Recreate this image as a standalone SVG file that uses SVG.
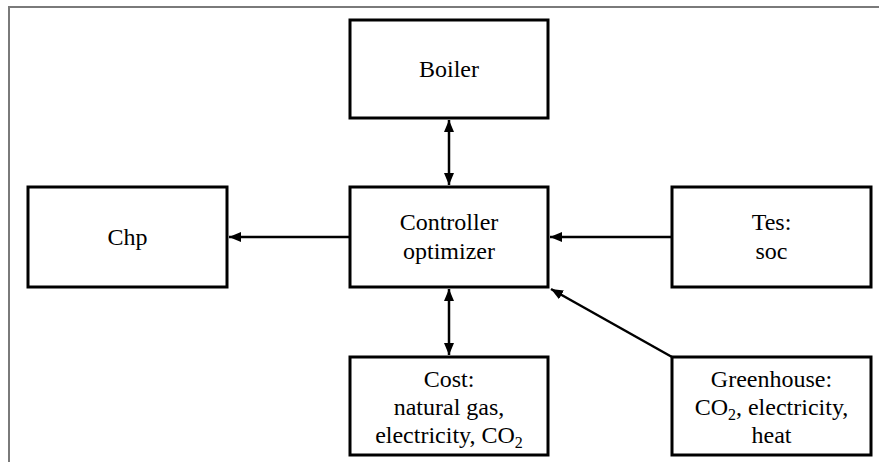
<svg xmlns="http://www.w3.org/2000/svg" width="879" height="462" viewBox="0 0 879 462">
<style>
.box{fill:#fff;stroke:#000;stroke-width:3}
.t{font-family:'Liberation Serif','Times New Roman',serif;font-size:24px;fill:#000;text-anchor:middle}
.s{font-size:16px}
.c{stroke:#000;stroke-width:2.5;fill:none}
.fr{stroke:#7a7a7a;stroke-width:2;fill:none}
</style>
<defs>
<marker id="ah" viewBox="0 0 12 10" refX="12" refY="5" markerWidth="12" markerHeight="10" markerUnits="userSpaceOnUse" orient="auto-start-reverse">
<path d="M0,0 L12,5 L0,10 Z" fill="#000"/>
</marker>
</defs>
<rect width="879" height="462" fill="#fff"/>
<path class="fr" d="M9,462 V7 H879"/>
<g id="boiler"><rect class="box" x="350" y="20" width="198" height="98"/><text class="t" x="449" y="77">Boiler</text></g>
<g id="controller"><rect class="box" x="350" y="187" width="198" height="100"/><text class="t" x="449" y="230">Controller</text><text class="t" x="449" y="259">optimizer</text></g>
<g id="chp"><rect class="box" x="28" y="187" width="199" height="100"/><text class="t" x="127.5" y="245">Chp</text></g>
<g id="tes"><rect class="box" x="672" y="187" width="199" height="100"/><text class="t" x="771.5" y="230">Tes:</text><text class="t" x="771.5" y="259">soc</text></g>
<g id="cost"><rect class="box" x="350" y="357" width="198" height="98"/><text class="t" x="449" y="387">Cost:</text><text class="t" x="449" y="415">natural gas,</text><text class="t" x="449" y="443">electricity, CO<tspan class="s" dy="5">2</tspan></text></g>
<g id="greenhouse"><rect class="box" x="672" y="357" width="199" height="98"/><text class="t" x="771.5" y="387">Greenhouse:</text><text class="t" x="771.5" y="415">CO<tspan class="s" dy="5">2</tspan><tspan dy="-5">, electricity,</tspan></text><text class="t" x="771.5" y="443">heat</text></g>
<g id="connectors">
<line class="c" x1="449" y1="120" x2="449" y2="185" marker-start="url(#ah)" marker-end="url(#ah)"/>
<line class="c" x1="350" y1="237" x2="229" y2="237" marker-end="url(#ah)"/>
<line class="c" x1="672" y1="237" x2="550" y2="237" marker-end="url(#ah)"/>
<line class="c" x1="449" y1="289" x2="449" y2="355" marker-start="url(#ah)" marker-end="url(#ah)"/>
<line class="c" x1="672" y1="357" x2="551" y2="289" marker-end="url(#ah)"/>
</g>
</svg>
